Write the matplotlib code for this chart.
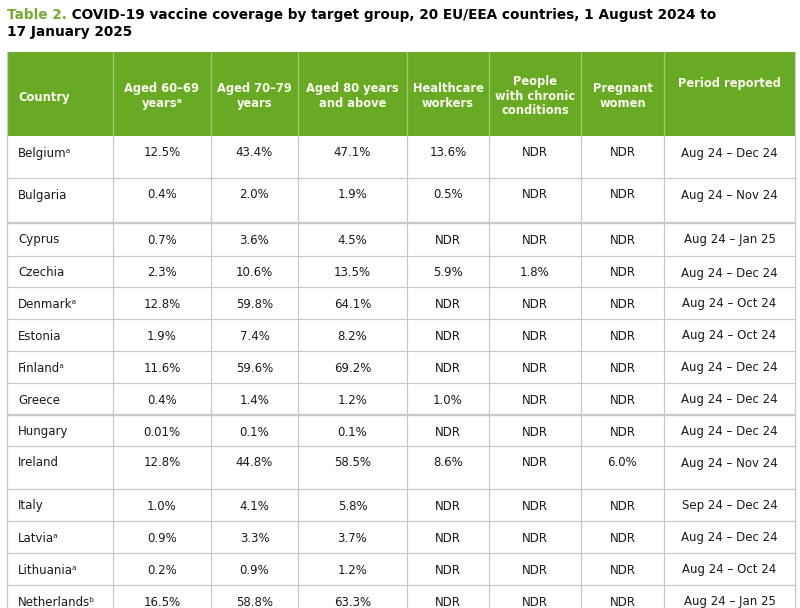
import matplotlib
matplotlib.use("Agg")
import matplotlib.pyplot as plt
from matplotlib.patches import Rectangle

# ---------------- data ----------------
countries = ["Belgium\u1d43", "Bulgaria", "Cyprus", "Czechia", "Denmark\u1d43", "Estonia",
             "Finland\u1d43", "Greece", "Hungary", "Ireland", "Italy", "Latvia\u1d43",
             "Lithuania\u1d43", "Netherlands\u1d47"]
aged_60_69 = ["12.5%", "0.4%", "0.7%", "2.3%", "12.8%", "1.9%", "11.6%", "0.4%",
              "0.01%", "12.8%", "1.0%", "0.9%", "0.2%", "16.5%"]
aged_70_79 = ["43.4%", "2.0%", "3.6%", "10.6%", "59.8%", "7.4%", "59.6%", "1.4%",
              "0.1%", "44.8%", "4.1%", "3.3%", "0.9%", "58.8%"]
aged_80_plus = ["47.1%", "1.9%", "4.5%", "13.5%", "64.1%", "8.2%", "69.2%", "1.2%",
                "0.1%", "58.5%", "5.8%", "3.7%", "1.2%", "63.3%"]
healthcare = ["13.6%", "0.5%", "NDR", "5.9%", "NDR", "NDR", "NDR", "1.0%",
              "NDR", "8.6%", "NDR", "NDR", "NDR", "NDR"]
chronic = ["NDR", "NDR", "NDR", "1.8%", "NDR", "NDR", "NDR", "NDR",
           "NDR", "NDR", "NDR", "NDR", "NDR", "NDR"]
pregnant = ["NDR", "NDR", "NDR", "NDR", "NDR", "NDR", "NDR", "NDR",
            "NDR", "6.0%", "NDR", "NDR", "NDR", "NDR"]
period = ["Aug 24 \u2013 Dec 24", "Aug 24 \u2013 Nov 24", "Aug 24 \u2013 Jan 25",
          "Aug 24 \u2013 Dec 24", "Aug 24 \u2013 Oct 24", "Aug 24 \u2013 Oct 24",
          "Aug 24 \u2013 Dec 24", "Aug 24 \u2013 Dec 24", "Aug 24 \u2013 Dec 24",
          "Aug 24 \u2013 Nov 24", "Sep 24 \u2013 Dec 24", "Aug 24 \u2013 Dec 24",
          "Aug 24 \u2013 Oct 24", "Aug 24 \u2013 Jan 25"]
headers = ["Country", "Aged 60\u201369\nyears\u1d43", "Aged 70\u201379\nyears",
           "Aged 80 years\nand above", "Healthcare\nworkers",
           "People\nwith chronic\nconditions", "Pregnant\nwomen", "Period reported"]
title_prefix = "Table 2."
title_rest = " COVID-19 vaccine coverage by target group, 20 EU/EEA countries, 1 August 2024 to"
title_line2 = "17 January 2025"

# ---------------- layout (pixels) ----------------
col_edges = [7, 113, 211, 298, 407, 489, 581, 664, 795]
header_top, header_bot = 52, 136
row_heights = [42, 45, 33, 31, 32, 32, 32, 32, 31, 43, 32, 32, 32, 32]
thick_after = {1, 7}   # rows followed by a heavier rule
header_y = [97, 96, 96, 96, 96, 96, 96, 84]

GREEN = "#69aa25"
TITLE_GREEN = "#76ac33"
GRID = "#c9c9c9"
HDR_LINE = "#9fcb74"
TXT = "#1a1a1a"

fig = plt.figure(figsize=(8.0, 6.08), dpi=100)
ax = fig.add_axes([0, 0, 1, 1])
ax.set_xlim(0, 800)
ax.set_ylim(608, 0)
ax.axis("off")
px = 0.72  # 1 pixel in points

# title
fs_title = 9.8
t1 = ax.text(7, 15, title_prefix, color=TITLE_GREEN, fontsize=fs_title,
             fontweight="bold", va="center", ha="left")
fig.canvas.draw()
r = fig.canvas.get_renderer()
bb = t1.get_window_extent(r)
x_end = ax.transData.inverted().transform((bb.x1, 0))[0]
ax.text(x_end, 15, title_rest, color="black", fontsize=fs_title, fontweight="bold",
        va="center", ha="left")
ax.text(7, 32, title_line2, color="black", fontsize=fs_title, fontweight="bold",
        va="center", ha="left")

# header
ax.add_patch(Rectangle((col_edges[0], header_top), col_edges[-1] - col_edges[0],
                       header_bot - header_top, facecolor=GREEN, edgecolor="none"))
for x in col_edges[1:-1]:
    ax.plot([x, x], [header_top, header_bot], color=HDR_LINE, lw=1.3 * px)
for i, h in enumerate(headers):
    if i == 0:
        ax.text(col_edges[0] + 11, header_y[i], h, color="#fbfbee", fontsize=8.3,
                fontweight="bold", ha="left", va="center", linespacing=1.15)
    else:
        xc = (col_edges[i] + col_edges[i + 1]) / 2
        ax.text(xc, header_y[i], h, color="#fbfbee", fontsize=8.3, fontweight="bold",
                ha="center", va="center", linespacing=1.15)

# body
columns = [countries, aged_60_69, aged_70_79, aged_80_plus, healthcare, chronic, pregnant, period]
y = header_bot
tops = []
for h in row_heights:
    tops.append(y)
    y += h
bottom = y

ax.plot([col_edges[0], col_edges[0]], [header_top, bottom], color=GRID, lw=1.3 * px)
ax.plot([col_edges[-1], col_edges[-1]], [header_top, bottom], color=GRID, lw=1.3 * px)
for x in col_edges[1:-1]:
    ax.plot([x, x], [header_bot, bottom], color=GRID, lw=1.2 * px)
for i, top in enumerate(tops):
    yb = top + row_heights[i]
    lw = 2.4 * px if i in thick_after else 1.2 * px
    ax.plot([col_edges[0], col_edges[-1]], [yb, yb], color=GRID, lw=lw,
            solid_capstyle="butt")
    for j, col in enumerate(columns):
        ty = top + 17
        if j == 0:
            ax.text(col_edges[0] + 11, ty, col[i], color=TXT, fontsize=8.5,
                    ha="left", va="center")
        else:
            xc = (col_edges[j] + col_edges[j + 1]) / 2
            ax.text(xc, ty, col[i], color=TXT, fontsize=8.5, ha="center", va="center")

fig.savefig("out.png", dpi=100)
